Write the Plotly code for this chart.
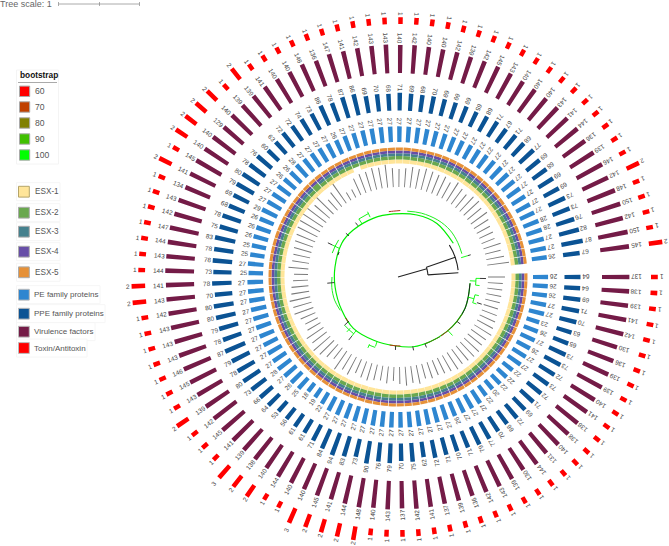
import plotly.graph_objects as go
import math

W, H = 669, 546
CX, CY, RP = 398.0, 277.0, 269.0
STEP = 3.56

pe_values = [26,26,26,27,27,23,26,27,26,27,27,22,22,22,20,22,27,27,27,26,27,27,27,27,27,27,27,27,27,27,
             27,27,27,27,22,19,18,25,26,27,28,27,27,27,27,27,27,27,27,27,27,25,27,25,25,26,26,26,29,27,
             27,27,26,26,28,27,27,27,27,26,27,27,27,27,27,27,27,27,27,27,27,27,27,27,27,27,27,27,27,27,
             27,27,27,27,27,28,28,27,27,26]
ppe_values = [64,64,69,71,70,63,65,73,73,72,73,72,71,69,72,66,70,77,79,71,70,71,72,62,75,70,79,76,90,73,
              83,94,84,71,61,61,56,53,64,66,73,80,78,79,87,78,79,80,80,70,78,73,78,78,83,75,78,68,69,79,
              80,78,76,60,63,72,72,74,73,86,78,87,86,69,70,68,71,69,68,70,69,69,69,65,68,71,67,71,68,77,
              69,68,69,69,73,73,76,82,87,67]
vf_values = [137,138,139,141,142,130,136,139,139,140,141,138,138,140,131,144,130,139,143,142,136,139,137,141,142,
             137,143,140,148,144,141,145,140,140,144,140,138,139,141,145,142,139,143,145,146,143,143,143,142,143,
             141,144,143,144,147,142,143,134,141,145,140,140,129,140,139,139,141,140,140,146,136,147,141,142,143,
             143,140,142,140,140,142,139,142,145,143,140,140,140,143,141,144,136,139,146,142,148,150,142,150,145]
ta_values = [1]*28 + [2,2,2,2,3,1,1,2,2,3,1,1,1,2] + [1]*7 + [2,2] + [1]*7 + [2,1,2,2,2,2,1,2] + [1]*28 + [2,1,1,1,1,2]
leaf_label_len = [17,15,15,15,15,15,16,17,18,20,18,18,20,20,19,18,20,18,17,16,17,15,19,17,19,
                  17,14,17,15,16,18,17,15,20,18,22,14,17,20,22,18,20,15,14,16,20,19,21,18,17,
                  15,14,20,17,17,18,19,20,22,23,25,24,20,25,14,18,25,9,9,18,20,20,22,21,23,
                  19,18,19,21,20,22,21,20,21,18,22,19,17,20,21,18,20,17,15,15,14,18,16,18,22]

legend_bootstrap = ["60", "70", "80", "90", "100"]
bootstrap_colors = ["#ff0000", "#c04000", "#808000", "#40c000", "#00ff00"]
esx_names = ["ESX-1", "ESX-2", "ESX-3", "ESX-4", "ESX-5"]
esx_colors = ["#ffe599", "#6aa84f", "#45818e", "#674ea7", "#e69138"]
gene_names = ["PE family proteins", "PPE family proteins", "Virulence factors", "Toxin/Antitoxin"]
gene_colors = ["#2e86d0", "#0b5394", "#741b47", "#ff0000"]

spine_theta = [5,15.6,25,37,48.3,63.7,77.6,92.5,111,131,149.6,171,189,211,226,247,266,287,306,328.6]
spine_r = [72.3,73,74,73.8,73.2,72.2,71.4,68.8,67.7,68,65.3,63.7,63.8,65.6,64.9,63.7,63.2,64.8,66.2,64.8]
outer_arc_theta = [278,290,305,318,330,340]
outer_arc_r = [66.5,68,69.5,70,69,68]
inner_arc_theta = [150,160,171,180]
inner_arc_r = [66.7,67.5,67,66]
dark_arcs = [([5,15.6,25,30],[72.3,73,74,74],"#222222"),
             ([30,37,44],[74,73.8,73.5],"#4a5a10"),
             ([44,48.3,54],[73.5,73.2,73],"#a02a10"),
             ([55,63.7,68],[73,72.2,72],"#4a7a10"),
             ([88,92,97],[69,68.8,68.6],"#c03010"),
             ([138,142],[67,66.5],"#a02a10"),
             ([262,266,272],[66,66,66.5],"#b03020"),
             ([200,203],[64,64],"#222222")]
tree_black_theta = [344,344,None,341,345,350,356,None,341,341,None,356,356,None,328,335,341,348,353.5]
tree_black_r = [0,30,None,30,30,30,30,None,30,60.5,None,30,60.5,None,60.5,60.5,60.5,60.5,60.5]
twig_theta = [3,1,6,16,13,19,343,37,47,68,78,92,108,113,128,133,138,175,206,220,236,245,232]
twig_r0 = [72,78,78,73,79,79,66,74,73,72,71,69,68,73,68,70,66,64,65,64,64,66,65]
twig_r1 = [78,82,82,79,83,83,73,78,80,76,75,73,73,77,75,75,72,71,73,68,70,72,69]
twig_color = ["#00ff00","#00ff00","#00ff00","#00ff00","#00ff00","#00ff00","#00ff00","#222222","#00ff00","#222222",
              "#222222","#222222","#00ff00","#00ff00","#00ff00","#00ff00","#222222","#222222","#00ff00","#222222",
              "#00ff00","#00ff00","#222222"]
tip_theta = [1,18,343,128,206]
tip_r0 = [82,83,73,75,73]
tip_r1 = [88,88,76,80,78]
fork_theta = [[1,3.5,6],[13,16,19],[128,133,138],[108,113],[236,245],[200,206,212]]
fork_r = [78,79,72,74,70,70]

n = len(vf_values)
theta = [i * STEP for i in range(n)]

PE_B, PE_S = 135.0, 0.58
PPE_B, PPE_S = 166.5, 0.25
VF_B, VF_S = 204.0, 0.2
TA_B, TA_S = 253.0, 6.8

fig = go.Figure()

def ring(vals, base, width, color):
    fig.add_trace(go.Barpolar(theta=theta, r=vals, base=base, width=width,
                              marker=dict(color=color, line=dict(width=0)), showlegend=False, hoverinfo="skip"))

ring(leaf_label_len, 90, 0.55, "#7a7a7a")

yellow_len = [0 if i == 70 else 4.0 for i in range(n)]
green_len = [6.3 if i == 64 else 3.5 for i in range(n)]
teal_len = [0 if i == 64 else 2.8 for i in range(n)]
ring(yellow_len, 113.5, 3.45, esx_colors[0])
ring(green_len, 117.5, 3.25, esx_colors[1])
ring(teal_len, 121.0, 3.25, esx_colors[2])
ring([2.7] * n, 123.8, 3.25, esx_colors[3])
ring([3.0] * n, 126.5, 3.25, esx_colors[4])

ring([v * PE_S for v in pe_values], PE_B, 1.75, gene_colors[0])
ring([v * PPE_S for v in ppe_values], PPE_B, 1.42, gene_colors[1])
ring([v * VF_S for v in vf_values], VF_B, 1.14, gene_colors[2])
ring([v * TA_S for v in ta_values], TA_B, 1.0, gene_colors[3])

def line(t, r, color, w=1.0, smooth=False):
    style = dict(color=color, width=w)
    if smooth:
        style.update(shape="spline", smoothing=1.0)
    fig.add_trace(go.Scatterpolar(theta=t, r=r, mode="lines", line=style, showlegend=False, hoverinfo="skip"))

line(spine_theta, spine_r, "#00ee00", 1.2, True)
line(outer_arc_theta, outer_arc_r, "#22ee22", 1.0, True)
line(inner_arc_theta, inner_arc_r, "#22ee22", 1.0, True)
for t, r, c in dark_arcs:
    line(t, r, c, 1.0, len(t) > 2)
for a, b, c, col in zip(twig_theta, twig_r0, twig_r1, twig_color):
    line([a, a], [b, c], col, 0.9)
for t, r in zip(fork_theta, fork_r):
    line(t, [r] * len(t), "#00ee00", 0.9)
for a, b, c in zip(tip_theta, tip_r0, tip_r1):
    line([a, a], [b, c], "#222222", 0.9)
line(tree_black_theta, tree_black_r, "#222222", 1.1)

def px(x):
    return x / W
def py(y):
    return 1 - y / H

annotations = []
def radial_label(txt, r, th, size=6.4):
    a = math.radians(th)
    x = CX + r * math.cos(a)
    y = CY + r * math.sin(a)
    annotations.append(dict(x=px(x), y=py(y), xref="paper", yref="paper", text=str(txt), showarrow=False,
                            textangle=(th + 180) % 360, xanchor="center", yanchor="middle",
                            font=dict(family="Liberation Sans", size=size, color="#444444")))

for i, th in enumerate(theta):
    radial_label(pe_values[i], PE_B + pe_values[i] * PE_S + 5, th)
    radial_label(ppe_values[i], PPE_B + ppe_values[i] * PPE_S + 4.8, th)
    radial_label(vf_values[i], VF_B + vf_values[i] * VF_S + 7, th)
    radial_label(ta_values[i], TA_B + ta_values[i] * TA_S + 3.5, th)

PAD = 2.0
def text(x, y, s, size=8.6, color="#555555", bold=False):
    annotations.append(dict(x=px(x - PAD), y=py(y), xref="paper", yref="paper", text=f"<b>{s}</b>" if bold else s, showarrow=False,
                            xanchor="left", yanchor="middle", font=dict(family="Liberation Sans", size=size, color=color)))

shapes = []
def rect(x0, y0, x1, y1, fill, border, w=1.0):
    shapes.append(dict(type="rect", xref="paper", yref="paper", x0=px(x0), x1=px(x1), y0=py(y0), y1=py(y1),
                       fillcolor=fill, line=dict(color=border, width=w), layer="below"))
def seg(x0, y0, x1, y1, color, w=1.0):
    shapes.append(dict(type="line", xref="paper", yref="paper", x0=px(x0), x1=px(x1), y0=py(y0), y1=py(y1), line=dict(color=color, width=w)))

text(0, 4.5, "Tree scale: 1", 9, "#666666")
seg(58.5, 4, 139.5, 4, "#aaaaaa", 1)
for x in (58.5, 99.5, 139.5):
    seg(x, 2, x, 6, "#888888", 0.7)

rect(16.5, 70, 58.5, 164, "white", "#f4f4f4")
text(19.5, 75.5, "bootstrap", 8.3, "#111111", True)
seg(18, 82.5, 57, 82.5, "#aaaaaa", 1)
for y, lab, c in zip([91.3, 107, 123, 139, 155], legend_bootstrap, bootstrap_colors):
    rect(19.5, y - 5.2, 29.7, y + 5.2, c, "#aaaaaa")
    text(35, y, lab, 8.6)

for y, lab, c in zip([191.7, 212.7, 231.7, 251.7, 272.3], esx_names, esx_colors):
    rect(16.5, y - 9, 60, y + 9, "white", "#f6f6f6")
    rect(18.5, y - 5.4, 29.3, y + 5.4, c, "#b5a468" if lab == "ESX-1" else "#aaaaaa")
    text(34.5, y, lab, 8.2)
for y, lab, c, right in zip([294.7, 313.7, 331.7, 348], gene_names, gene_colors, [100, 105, 95, 87]):
    rect(16.5, y - 9, right, y + 9, "white", "#f6f6f6")
    rect(18.5, y - 5.4, 29.3, y + 5.4, c, "#bbbbbb")
    text(34, y, lab, 8.0)

hidden = dict(visible=False, showgrid=False, showline=False, showticklabels=False, ticks="")
fig.update_layout(
    width=W, height=H, margin=dict(l=0, r=0, t=0, b=0), paper_bgcolor="white", showlegend=False,
    polar=dict(
        domain=dict(x=[(CX - RP) / W, (CX + RP) / W], y=[0, 1 - (CY - RP) / H]),
        bgcolor="rgba(0,0,0,0)", barmode="overlay",
        radialaxis=dict(range=[0, RP], **hidden),
        angularaxis=dict(direction="clockwise", rotation=0, thetaunit="degrees", **hidden),
    ),
    annotations=annotations, shapes=shapes,
)
fig.write_html("out.html", post_script="document.body.style.margin='0';document.body.style.overflow='hidden';window.dispatchEvent(new Event('resize'));", config={"displayModeBar": False})
